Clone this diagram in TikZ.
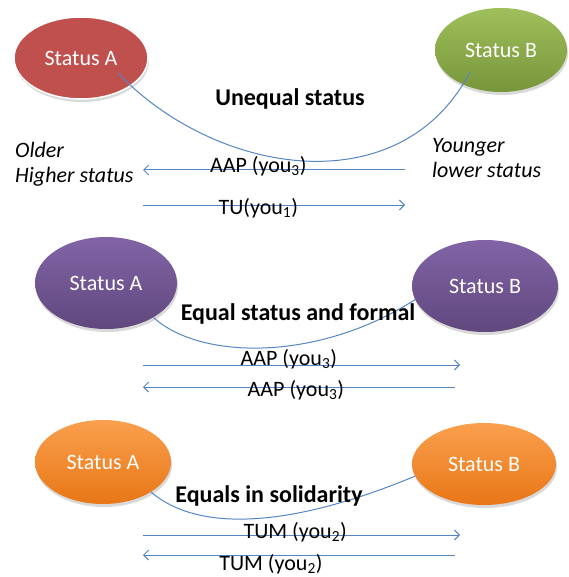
\documentclass[tikz,border=0pt]{standalone}
\usepackage{fontspec}
\setmainfont{Carlito}
\usetikzlibrary{arrows.meta,shapes.geometric,shadows}
\definecolor{StatusRed}{RGB}{192,80,77}
\definecolor{GreenTop}{RGB}{160,192,92}
\definecolor{GreenBottom}{RGB}{118,150,58}
\definecolor{PurpleTop}{RGB}{130,100,166}
\definecolor{PurpleBottom}{RGB}{96,72,126}
\definecolor{OrangeTop}{RGB}{250,160,78}
\definecolor{OrangeBottom}{RGB}{232,118,22}
\definecolor{LinkBlue}{RGB}{84,134,196}
\tikzset{
  status/.style={ellipse,inner sep=0pt,text=white,
    font=\fontsize{22}{24}\selectfont,
    drop shadow={shadow xshift=1pt,shadow yshift=-3pt,opacity=0.3}},
  heading/.style={font=\fontsize{24}{26}\selectfont\bfseries},
  side/.style={font=\fontsize{22}{25}\selectfont\itshape,align=left,
    inner sep=0pt,anchor=west},
  tag/.style={font=\fontsize{22}{24}\selectfont,inner sep=1pt,text=black},
  link/.style={line width=1pt,LinkBlue},
  arrow/.style={-{Straight Barb[length=5pt,width=10pt]},line width=1pt,LinkBlue}
}
\begin{document}
\begin{tikzpicture}[x=1pt,y=-1pt]
  \useasboundingbox (0,0) rectangle (568,577);
  % Unequal status
  \node[status,fill=StatusRed,draw=white,line width=1.5pt,
    minimum width=134pt,minimum height=82pt] (ua) at (81,58) {Status A};
  \node[status,top color=GreenTop,bottom color=GreenBottom,
    minimum width=132pt,minimum height=84pt] (ub) at (501,50) {Status B};
  \coordinate (ua-in) at (118,73);
  \coordinate (ub-in) at (470,72);
  \draw[link] (ua-in) .. controls (215,175) and (400,206) .. (ub-in);
  \node[heading] (unequal) at (290,99) {Unequal status};
  \node[side] (older) at (15,164) {Older\\Higher status};
  \node[side] (younger) at (432,158) {Younger\\lower status};
  \coordinate (aap-r) at (405,170);
  \coordinate (aap-l) at (143,170);
  \coordinate (tu-l) at (143,205);
  \coordinate (tu-r) at (405,205);
  \draw[arrow] (aap-r) -- (aap-l) node[tag,pos=0.56,yshift=4pt] {AAP (you\textsubscript{3})};
  \draw[arrow] (tu-l) -- (tu-r) node[tag,pos=0.44,yshift=-3pt] {TU(you\textsubscript{1})};
  % Equal status and formal
  \node[status,top color=PurpleTop,bottom color=PurpleBottom,
    minimum width=142pt,minimum height=92pt] (ea) at (106,283) {Status A};
  \node[status,top color=PurpleTop,bottom color=PurpleBottom,
    minimum width=146pt,minimum height=92pt] (eb) at (485,286) {Status B};
  \draw[link] (ea.-36) .. controls (200,360) and (318,362) .. (eb.191);
  \node[heading] (formal) at (298,314) {Equal status and formal};
  \coordinate (ef-l) at (143,365);
  \coordinate (ef-r) at (460,365);
  \coordinate (eb-r) at (455,387);
  \coordinate (eb-l) at (143,387);
  \draw[arrow] (ef-l) -- (ef-r) node[tag,pos=0.46,yshift=6pt] {AAP (you\textsubscript{3})};
  \draw[arrow] (eb-r) -- (eb-l) node[tag,pos=0.51,yshift=-3pt] {AAP (you\textsubscript{3})};
  % Equals in solidarity
  \node[status,top color=OrangeTop,bottom color=OrangeBottom,
    minimum width=136pt,minimum height=84pt] (sa) at (103,462) {Status A};
  \node[status,top color=OrangeTop,bottom color=OrangeBottom,
    minimum width=144pt,minimum height=82pt] (sb) at (484,464) {Status B};
  \draw[link] (sa.-32) .. controls (195,530) and (283,531) .. (sb.190);
  \node[heading] (solidarity) at (269,496) {Equals in solidarity};
  \coordinate (tum-l) at (143,535);
  \coordinate (tum-r) at (460,535);
  \coordinate (tub-r) at (455,555);
  \coordinate (tub-l) at (143,555);
  \draw[arrow] (tum-l) -- (tum-r) node[tag,pos=0.48,yshift=3pt] {TUM (you\textsubscript{2})};
  \draw[arrow] (tub-r) -- (tub-l) node[tag,pos=0.59,yshift=-9pt] {TUM (you\textsubscript{2})};
\end{tikzpicture}
\end{document}
